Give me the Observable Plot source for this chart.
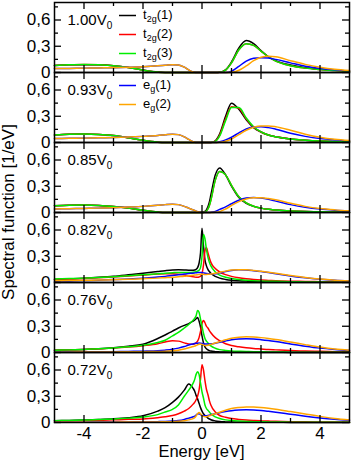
<!DOCTYPE html>
<html><head><meta charset="utf-8">
<script src="https://cdn.jsdelivr.net/npm/d3@7"></script>
<script src="https://cdn.jsdelivr.net/npm/@observablehq/plot@0.6"></script>
<style>
body{margin:0;background:#fff;}
#chart{width:353px;height:463px;}
</style></head><body><div id="chart"></div>
<script>
// ---- data ----
const energy = [-5,-4.5,-4,-3.5,-3,-2.5,-2,-1.5,
  -1.25,-1,-0.8,-0.6,-0.45,
  -0.3,-0.25,-0.2,-0.15,-0.1,-0.05,0,0.05,0.1,0.15,0.2,0.25,0.3,
  0.45,0.6,0.8,1,1.25,1.5,1.75,2,2.25,2.5,
  3,3.5,4,4.5,5];
const panels = ["1.00","0.93","0.85","0.82","0.76","0.72"];
const seriesKeys = ["t2g1","t2g2","t2g3","eg1","eg2"];
const seriesLabels = ["t_{2g}(1)","t_{2g}(2)","t_{2g}(3)","e_{g}(1)","e_{g}(2)"];
const seriesColors = ["#000000","#ff0000","#00ee00","#0000ff","#ffa500"];
const yTicks = [0,0.3,0.6];
const yMinor = [0.15,0.45,0.75];
const xTicks = [-4,-2,0,2,4];
const xMinor = [-3,-1,1,3];

// panel 1.00 V0
const p100_t2g1 = [0.08,0.088,0.09,0.088,0.078,0.058,0.028,0.005, 0,0,0,0,0, 0,0,0,0,0,0,0,0,0,0,0,0,0, 0,0.002,0.03,0.12,0.28,0.365,0.33,0.25,0.18,0.135, 0.085,0.055,0.038,0.025,0.015];
const p100_t2g2 = [0.08,0.088,0.092,0.088,0.078,0.057,0.027,0.005, 0,0,0,0,0, 0,0,0,0,0,0,0,0,0,0,0,0,0, 0,0.002,0.028,0.11,0.26,0.33,0.31,0.245,0.18,0.13, 0.078,0.05,0.034,0.023,0.014];
const p100_t2g3 = [0.08,0.088,0.092,0.088,0.078,0.057,0.027,0.005, 0,0,0,0,0, 0,0,0,0,0,0,0,0,0,0,0,0,0, 0,0.002,0.028,0.11,0.26,0.33,0.31,0.245,0.18,0.13, 0.078,0.05,0.034,0.023,0.014];
const p100_eg1 = [0.045,0.047,0.05,0.052,0.055,0.06,0.066,0.076, 0.083,0.09,0.086,0.062,0.03, 0.006,0.002,0,0,0,0,0,0,0,0,0,0,0, 0,0,0,0.015,0.07,0.13,0.163,0.17,0.165,0.15, 0.11,0.072,0.047,0.03,0.02];
const p100_eg2 = [0.045,0.047,0.05,0.052,0.055,0.06,0.066,0.076, 0.083,0.09,0.086,0.062,0.03, 0.006,0.002,0,0,0,0,0,0,0,0,0,0,0, 0,0,0,0.002,0.025,0.075,0.135,0.175,0.185,0.18, 0.135,0.093,0.06,0.036,0.022];

// panel 0.93 V0
const p093_t2g1 = [0.085,0.093,0.096,0.092,0.08,0.055,0.025,0.004, 0,0,0,0,0, 0,0,0,0,0,0,0,0,0,0,0,0,0, 0.02,0.1,0.3,0.45,0.38,0.26,0.17,0.12,0.085,0.065, 0.04,0.027,0.018,0.012,0.008];
const p093_t2g2 = [0.085,0.093,0.096,0.092,0.08,0.055,0.025,0.004, 0,0,0,0,0, 0,0,0,0,0,0,0,0,0,0,0,0,0, 0.015,0.085,0.27,0.41,0.39,0.27,0.175,0.12,0.085,0.065, 0.04,0.027,0.018,0.012,0.008];
const p093_t2g3 = [0.085,0.093,0.096,0.092,0.08,0.055,0.025,0.004, 0,0,0,0,0, 0,0,0,0,0,0,0,0,0,0,0,0,0, 0.012,0.075,0.25,0.4,0.4,0.28,0.18,0.122,0.086,0.066, 0.04,0.027,0.018,0.012,0.008];
const p093_eg1 = [0.046,0.048,0.05,0.053,0.056,0.062,0.07,0.08, 0.088,0.095,0.09,0.065,0.035, 0.008,0.003,0,0,0,0,0,0,0,0,0,0,0, 0,0.01,0.03,0.06,0.11,0.155,0.178,0.18,0.17,0.152, 0.105,0.07,0.045,0.03,0.02];
const p093_eg2 = [0.046,0.048,0.05,0.053,0.056,0.062,0.07,0.08, 0.088,0.095,0.09,0.065,0.035, 0.008,0.003,0,0,0,0,0,0,0,0,0,0,0, 0,0.002,0.015,0.04,0.09,0.14,0.175,0.19,0.19,0.18, 0.14,0.095,0.06,0.036,0.022];

// panel 0.85 V0
const p085_t2g1 = [0.077,0.083,0.085,0.08,0.068,0.05,0.025,0.005, 0,0,0,0,0, 0,0,0,0,0,0,0,0.003,0.012,0.03,0.065,0.12,0.2, 0.43,0.51,0.43,0.3,0.17,0.105,0.07,0.05,0.036,0.028, 0.017,0.011,0.008,0.005,0.004];
const p085_t2g2 = [0.077,0.083,0.085,0.08,0.068,0.05,0.025,0.005, 0,0,0,0,0, 0,0,0,0,0,0,0,0.001,0.006,0.018,0.04,0.08,0.14, 0.37,0.47,0.43,0.31,0.18,0.11,0.072,0.05,0.036,0.028, 0.017,0.011,0.008,0.005,0.004];
const p085_t2g3 = [0.077,0.083,0.085,0.08,0.068,0.05,0.025,0.005, 0,0,0,0,0, 0,0,0,0,0,0,0,0.001,0.006,0.018,0.04,0.08,0.14, 0.37,0.47,0.43,0.31,0.18,0.11,0.072,0.05,0.036,0.028, 0.017,0.011,0.008,0.005,0.004];
const p085_eg1 = [0.04,0.043,0.046,0.05,0.055,0.062,0.07,0.082, 0.09,0.095,0.09,0.07,0.05, 0.03,0.023,0.016,0.01,0.005,0.002,0,0,0,0,0,0,0.002, 0.012,0.035,0.065,0.1,0.14,0.165,0.172,0.165,0.15,0.13, 0.09,0.06,0.04,0.027,0.018];
const p085_eg2 = [0.04,0.043,0.046,0.05,0.055,0.062,0.07,0.082, 0.09,0.095,0.09,0.07,0.05, 0.03,0.023,0.016,0.01,0.005,0.002,0,0,0,0,0,0,0, 0.002,0.01,0.04,0.08,0.125,0.155,0.168,0.168,0.16,0.145, 0.105,0.07,0.045,0.03,0.02];

// panel 0.82 V0
const p082_t2g1 = [0.035,0.042,0.05,0.06,0.072,0.088,0.105,0.125, 0.135,0.143,0.145,0.143,0.14, 0.14,0.142,0.15,0.17,0.22,0.34,0.62,0.42,0.26,0.19,0.15,0.125,0.105, 0.07,0.05,0.035,0.026,0.02,0.016,0.013,0.011,0.01,0.009, 0.006,0.005,0.004,0.003,0.003];
const p082_t2g2 = [0.035,0.04,0.046,0.053,0.062,0.073,0.085,0.097, 0.1,0.1,0.095,0.085,0.075, 0.065,0.062,0.06,0.06,0.063,0.072,0.1,0.2,0.36,0.4,0.34,0.28,0.23, 0.16,0.12,0.09,0.07,0.053,0.042,0.034,0.028,0.024,0.02, 0.015,0.012,0.009,0.007,0.006];
const p082_t2g3 = [0.04,0.045,0.05,0.056,0.065,0.076,0.088,0.1, 0.107,0.112,0.115,0.115,0.115, 0.118,0.12,0.123,0.13,0.14,0.17,0.3,0.55,0.5,0.38,0.29,0.23,0.19, 0.12,0.085,0.06,0.045,0.033,0.026,0.021,0.017,0.015,0.013, 0.009,0.007,0.005,0.004,0.004];
const p082_eg1 = [0.015,0.018,0.022,0.027,0.033,0.04,0.05,0.062, 0.07,0.08,0.088,0.097,0.103, 0.107,0.109,0.111,0.113,0.114,0.115,0.113,0.11,0.107,0.104,0.1,0.1,0.1, 0.1,0.11,0.125,0.138,0.145,0.143,0.135,0.125,0.113,0.1, 0.075,0.053,0.037,0.025,0.017];
const p082_eg2 = [0.02,0.022,0.025,0.028,0.032,0.037,0.043,0.05, 0.055,0.06,0.066,0.072,0.078, 0.083,0.085,0.087,0.089,0.091,0.093,0.094,0.093,0.092,0.092,0.093,0.095,0.097, 0.105,0.115,0.13,0.142,0.147,0.145,0.138,0.128,0.117,0.105, 0.08,0.058,0.04,0.027,0.018];

// panel 0.76 V0
const p076_t2g1 = [0.025,0.03,0.035,0.043,0.055,0.072,0.095,0.16, 0.2,0.245,0.28,0.31,0.33, 0.36,0.37,0.385,0.4,0.36,0.29,0.19,0.11,0.065,0.042,0.03,0.022,0.017, 0.01,0.007,0.005,0.004,0.003,0.002,0.002,0.002,0.002,0.002, 0.001,0.001,0.001,0.001,0.001];
const p076_t2g2 = [0.025,0.03,0.035,0.042,0.05,0.062,0.078,0.1, 0.12,0.135,0.13,0.11,0.097, 0.095,0.1,0.11,0.13,0.17,0.24,0.33,0.365,0.34,0.3,0.28,0.25,0.225, 0.17,0.135,0.1,0.08,0.065,0.054,0.046,0.04,0.034,0.03, 0.022,0.017,0.013,0.01,0.008];
const p076_t2g3 = [0.025,0.03,0.035,0.042,0.052,0.065,0.082,0.115, 0.14,0.19,0.23,0.28,0.32, 0.37,0.39,0.42,0.48,0.46,0.38,0.3,0.22,0.16,0.13,0.11,0.09,0.075, 0.048,0.033,0.024,0.018,0.014,0.011,0.009,0.008,0.007,0.006, 0.004,0.003,0.003,0.002,0.002];
const p076_eg1 = [0.005,0.006,0.007,0.008,0.01,0.012,0.015,0.02, 0.027,0.037,0.05,0.068,0.085, 0.098,0.102,0.105,0.107,0.108,0.107,0.104,0.1,0.097,0.096,0.096,0.097,0.099, 0.107,0.117,0.132,0.145,0.155,0.158,0.155,0.147,0.137,0.125, 0.098,0.072,0.05,0.035,0.024];
const p076_eg2 = [0.003,0.004,0.005,0.006,0.007,0.008,0.01,0.012, 0.015,0.02,0.027,0.04,0.055, 0.068,0.073,0.08,0.088,0.095,0.097,0.093,0.085,0.08,0.08,0.083,0.088,0.093, 0.108,0.124,0.145,0.163,0.175,0.18,0.177,0.17,0.16,0.148, 0.12,0.09,0.062,0.04,0.027];

// panel 0.72 V0
const p072_t2g1 = [0.02,0.024,0.028,0.034,0.042,0.055,0.077,0.13, 0.17,0.23,0.29,0.37,0.44, 0.39,0.36,0.31,0.27,0.22,0.17,0.13,0.1,0.08,0.065,0.05,0.04,0.032, 0.018,0.011,0.007,0.005,0.004,0.003,0.003,0.002,0.002,0.002, 0.001,0.001,0.001,0.001,0.001];
const p072_t2g2 = [0.015,0.018,0.021,0.025,0.03,0.036,0.04,0.055, 0.065,0.08,0.1,0.13,0.16, 0.21,0.23,0.26,0.3,0.37,0.5,0.66,0.6,0.48,0.38,0.32,0.25,0.2, 0.12,0.08,0.06,0.045,0.035,0.028,0.023,0.019,0.016,0.014, 0.01,0.008,0.006,0.005,0.004];
const p072_t2g3 = [0.02,0.024,0.028,0.033,0.04,0.05,0.063,0.09, 0.12,0.15,0.2,0.3,0.37, 0.45,0.49,0.55,0.58,0.55,0.45,0.35,0.28,0.2,0.16,0.14,0.12,0.1, 0.065,0.045,0.03,0.022,0.016,0.012,0.01,0.008,0.007,0.006, 0.004,0.003,0.003,0.002,0.002];
const p072_eg1 = [0.003,0.003,0.004,0.005,0.006,0.007,0.008,0.01, 0.012,0.016,0.022,0.035,0.05, 0.065,0.072,0.085,0.098,0.1,0.09,0.08,0.076,0.076,0.077,0.08,0.084,0.088, 0.1,0.112,0.125,0.135,0.142,0.145,0.143,0.137,0.128,0.118, 0.095,0.072,0.052,0.036,0.025];
const p072_eg2 = [0.002,0.002,0.003,0.003,0.004,0.005,0.006,0.007, 0.008,0.01,0.013,0.02,0.03, 0.045,0.055,0.075,0.1,0.115,0.1,0.08,0.07,0.066,0.067,0.071,0.077,0.084, 0.1,0.118,0.14,0.16,0.172,0.178,0.177,0.172,0.163,0.152, 0.125,0.097,0.07,0.047,0.03];

const panelSeries = {
  "1.00": [p100_t2g1,p100_t2g2,p100_t2g3,p100_eg1,p100_eg2],
  "0.93": [p093_t2g1,p093_t2g2,p093_t2g3,p093_eg1,p093_eg2],
  "0.85": [p085_t2g1,p085_t2g2,p085_t2g3,p085_eg1,p085_eg2],
  "0.82": [p082_t2g1,p082_t2g2,p082_t2g3,p082_eg1,p082_eg2],
  "0.76": [p076_t2g1,p076_t2g2,p076_t2g3,p076_eg1,p076_eg2],
  "0.72": [p072_t2g1,p072_t2g2,p072_t2g3,p072_eg1,p072_eg2]
};

const rows = [];
for (const p of panels) {
  panelSeries[p].forEach((vals, si) => {
    vals.forEach((v, i) => rows.push({panel: p, series: seriesKeys[si], energy: energy[i], value: v}));
  });
}

// ---- layout ----
const W = 353, H = 463, ML = 54, MR = 4, MT = 2, MB = 41;
const innerW = W - ML - MR;
const bandH = (H - MT - MB) / panels.length;
const FONT = "'Liberation Sans', Arial, Helvetica, sans-serif";

const fmtY = d => d === 0 ? "0" : String(d).replace(".", ",");
const fmtX = d => d < 0 ? "-" + Math.abs(d) : String(d);

const plot = Plot.plot({
  width: W, height: H,
  marginLeft: ML, marginRight: MR, marginTop: MT, marginBottom: MB,
  style: {fontFamily: FONT, background: "white", color: "black"},
  x: {domain: [-5, 5]},
  y: {domain: [0, 0.8]},
  fy: {domain: panels, padding: 0, axis: null, label: null},
  color: {domain: seriesKeys, range: seriesColors},
  marks: [
    Plot.line(rows, {x: "energy", y: "value", fy: "panel", z: "series", stroke: "series",
      curve: "monotone-x", strokeWidth: 1.5}),
    Plot.tickY(yTicks, {y: d => d, insetRight: innerW - 7, strokeWidth: 1.3}),
    Plot.tickY(yMinor, {y: d => d, insetRight: innerW - 4, strokeWidth: 1.3}),
    Plot.tickY(yTicks, {y: d => d, insetLeft: innerW - 7, strokeWidth: 1.3}),
    Plot.tickY(yMinor, {y: d => d, insetLeft: innerW - 4, strokeWidth: 1.3}),
    Plot.tickX(xTicks, {x: d => d, insetBottom: bandH - 7, strokeWidth: 1.3}),
    Plot.tickX(xMinor, {x: d => d, insetBottom: bandH - 4, strokeWidth: 1.3}),
    Plot.tickX(xTicks, {x: d => d, insetTop: bandH - 7, strokeWidth: 1.3}),
    Plot.tickX(xMinor, {x: d => d, insetTop: bandH - 4, strokeWidth: 1.3}),
    Plot.frame({stroke: "black", strokeWidth: 1.5}),
    Plot.axisY({ticks: yTicks, tickSize: 0, tickPadding: 4, tickFormat: fmtY, fontSize: 17, label: null}),
    Plot.axisX({ticks: xTicks, tickSize: 0, tickPadding: 4, tickFormat: fmtX, fontSize: 17, label: null}),
    Plot.text(panels, {fy: d => d, text: d => d + "V_0", frameAnchor: "top-left", textAnchor: "start",
      lineAnchor: "middle", dx: 13, dy: 18, fontSize: 15})
  ]
});

document.getElementById("chart").appendChild(plot);

// ---- subscripts ----
function subify(el, subSize, shift) {
  const s = el.textContent;
  if (!s.includes("_")) return;
  const parts = [];
  const re = /_\{([^}]*)\}|_(.)/g;
  let last = 0, m;
  while ((m = re.exec(s))) {
    if (m.index > last) parts.push({t: s.slice(last, m.index), sub: false});
    parts.push({t: m[1] !== undefined ? m[1] : m[2], sub: true});
    last = re.lastIndex;
  }
  if (last < s.length) parts.push({t: s.slice(last), sub: false});
  el.textContent = "";
  let down = false;
  for (const p of parts) {
    const ts = d3.select(el).append("tspan").text(p.t);
    if (p.sub) {
      ts.attr("font-size", subSize);
      if (!down) { ts.attr("dy", shift); down = true; }
    } else if (down) { ts.attr("dy", -shift); down = false; }
  }
}
const svg = d3.select(plot);
svg.selectAll("text").each(function() { subify(this, 10, 4); });

// ---- legend (inside first two panels) ----
const legendPanel = [0, 0, 0, 1, 1];
const legendRow = [0, 1, 2, 0, 1];
const lg = svg.append("g").attr("font-family", FONT).attr("font-size", 13).attr("text-anchor", "start");
seriesKeys.forEach((k, i) => {
  const y0 = MT + legendPanel[i] * bandH + 13.5 + legendRow[i] * 19;
  lg.append("line").attr("x1", 119).attr("x2", 136).attr("y1", y0).attr("y2", y0)
    .attr("stroke", seriesColors[i]).attr("stroke-width", 1.5);
  const t = lg.append("text").attr("x", 143).attr("y", y0 + 3.5)
    .attr("text-anchor", "start").attr("fill", "black").text(seriesLabels[i]);
  subify(t.node(), 9, 3);
});

// ---- axis titles ----
svg.append("text").attr("transform", `translate(14,${MT + bandH * 3}) rotate(-90)`)
  .attr("text-anchor", "middle").attr("font-family", FONT).attr("font-size", 17).attr("fill", "black")
  .text("Spectral function [1/eV]");
svg.append("text").attr("x", ML + innerW / 2).attr("y", 457)
  .attr("text-anchor", "middle").attr("font-family", FONT).attr("font-size", 16.5).attr("fill", "black")
  .text("Energy [eV]");
</script>
</body></html>
